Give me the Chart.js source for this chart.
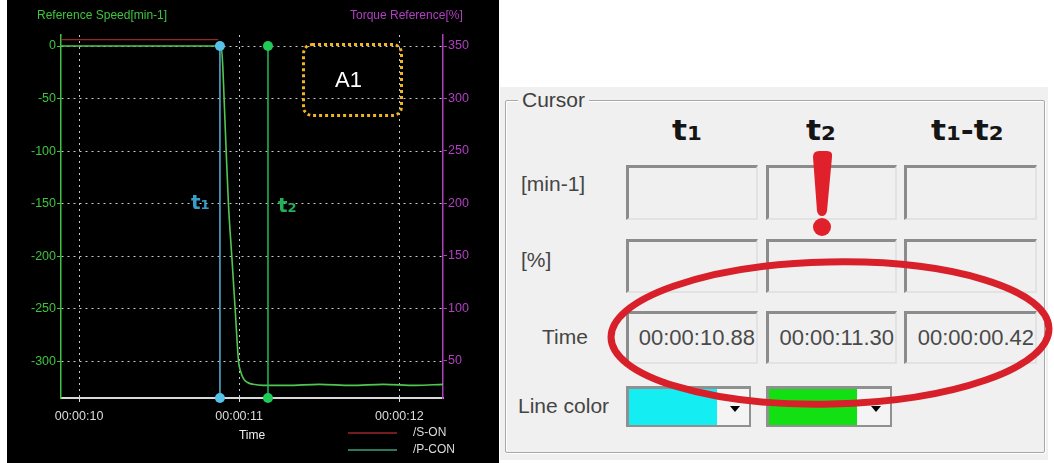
<!DOCTYPE html>
<html>
<head>
<meta charset="utf-8">
<script src="https://cdn.jsdelivr.net/npm/chart.js@4.4.1/dist/chart.umd.min.js"></script>
<style>
  body { margin:0; width:1054px; height:463px; background:#fff; position:relative; overflow:hidden;
         font-family:'Liberation Sans', Arial, sans-serif; }
  #scope { position:absolute; left:7px; top:0; width:492px; height:463px; background:#000; }
  #scope canvas { position:absolute; left:0; top:0; }
  .ttl { position:absolute; top:8px; font-size:12px; white-space:nowrap; }
  .a1 { position:absolute; left:295px; top:43px; width:101px; height:74px; box-sizing:border-box;
        border:3px dotted #f0b428; border-radius:10px; color:#fff; font-size:22px;
        text-align:center; line-height:68px; padding-right:8px; }
  .cur { position:absolute; font-family:'DejaVu Sans', sans-serif; font-weight:bold; font-size:20px; }
  .cur span { font-size:13px; }

  #panelbg { position:absolute; left:500px; top:87px; width:548px; height:373px; background:#f0f0f0; }
  #group { position:absolute; left:505px; top:100px; width:540px; height:353px; box-sizing:border-box;
           border:1px solid #a8a8a8; box-shadow:inset 1px 1px 0 #fff, 1px 1px 0 #fff; border-radius:2px; }
  .legend { position:absolute; left:518px; top:89px; padding:0 4px; background:#f0f0f0; font-size:21px;
            line-height:21px; color:#404040; }
  .hdr { position:absolute; top:116px; font-family:'DejaVu Sans', sans-serif; font-weight:bold; font-size:28px;
         line-height:30px; color:#151515; transform:scaleX(1.12); transform-origin:left top; white-space:nowrap; }
  .hdr span { font-size:19px; }
  .rl { position:absolute; font-size:21px; line-height:21px; color:#454545; white-space:nowrap; }
  .box { position:absolute; box-sizing:border-box; background:#f0f0f0;
         border-top:3px solid #8c8c8c; border-left:3px solid #8c8c8c;
         border-bottom:2px solid #e2e2e2; border-right:2px solid #e2e2e2;
         font-size:22px; color:#4a4a4a; text-align:right; padding-right:1px; }
  .dd { position:absolute; top:386px; height:41px; box-sizing:border-box; background:#f4f4f4;
        border:3px solid #909090; border-right-width:2px; border-bottom-width:2px; }
  .dd .sw { position:absolute; left:0; top:0; width:88px; height:36px; }
  .dd .ar { position:absolute; top:17px; width:0; height:0; border-left:5px solid transparent;
            border-right:5px solid transparent; border-top:6px solid #000; }
  #marks { position:absolute; left:0; top:0; pointer-events:none; }
</style>
</head>
<body>

<div id="scope">
  <canvas id="line_graph" width="492" height="463"></canvas>
  <div class="ttl" style="left:30px; color:#3fc43f;">Reference Speed[min-1]</div>
  <div class="ttl" style="left:343px; color:#b040c0;">Torque Reference[%]</div>
  <div class="a1">A1</div>
  <div class="cur" style="left:184px; top:190px; color:#3a9cc8;">t<span>1</span></div>
  <div class="cur" style="left:271px; top:193px; color:#22b05a;">t<span>2</span></div>
</div>

<div id="panelbg"></div>
<div id="group"></div>
<div class="legend">Cursor</div>
<div class="hdr" style="left:672px;">t<span>1</span></div>
<div class="hdr" style="left:806px;">t<span>2</span></div>
<div class="hdr" style="left:931px;">t<span>1</span>-t<span>2</span></div>

<div class="rl" style="left:521px; top:173px;">[min-1]</div>
<div class="rl" style="left:521px; top:249px;">[%]</div>
<div class="rl" style="left:542px; top:326px;">Time</div>
<div class="rl" style="left:518px; top:395px;">Line color</div>

<div id="boxes"></div>

<div class="dd" style="left:626px; width:125px;"><div class="sw" style="background:#14eef2;"></div><div class="ar" style="left:101px;"></div></div>
<div class="dd" style="left:766px; width:126px;"><div class="sw" style="background:#12e012;"></div><div class="ar" style="left:102px;"></div></div>

<svg id="marks" width="1054" height="463">
  <path d="M813,157 Q813,151 819,151 L827,151 Q833,151 832,157 L827,211 Q826,216 822,216 Q818,216 817,211 Z" fill="#e0202a"/>
  <circle cx="822" cy="227" r="9" fill="#e0202a"/>
  <ellipse cx="830" cy="333" rx="219" ry="71" transform="rotate(-1.2 830 333)" fill="none" stroke="#d8202a" stroke-width="7"/>
</svg>

<script>
// speed reference trace [min-1] vs time [s]
var speedTime  = [9.8875, 10.87, 10.888, 10.898, 10.906, 10.919, 10.933, 10.954, 10.975, 10.996, 11.01, 11.025, 11.05, 11.0875, 11.15, 11.3, 11.5, 11.7, 11.9, 12.1, 12.273];
var speedValue = [0, 0, 0, -20, -50, -100, -150, -200, -250, -300, -310, -316, -320, -322, -323, -323, -322, -323, -322, -323, -322];

// /S-ON trace on torque axis [%]
var sOnTime  = [9.8875, 10.87];
var sOnValue = [356, 356];

// cursors
var cursorNames = ["t1", "t2"];
var cursorTimes = [10.88, 11.18];
var cursorColors = ["#56b0d8", "#2ab85a"];
var cursorDots = ["#56c2ea", "#20cc58"];

// table values
var cursorTimeText = ["00:00:10.88", "00:00:11.30", "00:00:00.42"];

var xMin = 9.8875, xMax = 12.273;
var yMin = -335, yMax = 10.5;
var y2Min = 14.7, y2Max = 360.5;

function fmtTime(v) {
  var s = Math.round(v);
  return "00:00:" + (s < 10 ? "0" + s : s);
}

var speedData = [];
for (var i = 0; i < speedTime.length; i++) {
  speedData.push({x: speedTime[i], y: speedValue[i]});
}
var sOnData = [];
for (var i = 0; i < sOnTime.length; i++) {
  sOnData.push({x: sOnTime[i], y: sOnValue[i]});
}

var datasets = [];
for (var c = 0; c < cursorTimes.length; c++) {
  datasets.push({
    label: cursorNames[c],
    data: [{x: cursorTimes[c], y: 0}, {x: cursorTimes[c], y: yMin}],
    yAxisID: 'y',
    borderColor: cursorColors[c],
    borderWidth: 1.5,
    pointRadius: 5,
    pointBackgroundColor: cursorDots[c],
    pointBorderWidth: 0,
    clip: false,
    order: 0
  });
}
datasets.push({
  label: "Reference Speed",
  data: speedData,
  yAxisID: 'y',
  borderColor: "#50c650",
  borderWidth: 1.6,
  pointRadius: 0,
  cubicInterpolationMode: 'monotone',
  order: 1
});
datasets.push({
  label: "/S-ON",
  data: sOnData,
  yAxisID: 'y2',
  borderColor: "#9c2424",
  borderWidth: 1.2,
  pointRadius: 0,
  inLegend: true,
  order: 2
});
datasets.push({
  label: "/P-CON",
  data: [],
  yAxisID: 'y2',
  borderColor: "#3aa27c",
  borderWidth: 1.2,
  pointRadius: 0,
  inLegend: true,
  order: 2
});

// legend at bottom right, line sample + label
var legendLines = {
  id: 'legendLines',
  afterDraw: function(chart) {
    var ctx = chart.ctx;
    var row = 0;
    chart.data.datasets.forEach(function(ds) {
      if (!ds.inLegend) return;
      var y = 433 + row * 17;
      ctx.save();
      ctx.strokeStyle = ds.borderColor;
      ctx.lineWidth = 1.5;
      ctx.beginPath();
      ctx.moveTo(341, y);
      ctx.lineTo(390, y);
      ctx.stroke();
      ctx.fillStyle = "#dcdcdc";
      ctx.font = "12px 'Liberation Sans', Arial, sans-serif";
      ctx.textBaseline = "middle";
      ctx.fillText(ds.label, 406, y);
      ctx.restore();
      row++;
    });
  }
};

var tickFont = {family: "'Liberation Sans', Arial, sans-serif", size: 12.5};

var ctx = document.getElementById("line_graph");
var line_graph = new Chart(ctx, {
  type: 'line',
  data: { datasets: datasets },
  options: {
    responsive: false,
    animation: false,
    devicePixelRatio: 1,
    layout: { padding: { top: 35, bottom: 20, left: 0, right: 0 } },
    plugins: { legend: { display: false }, tooltip: { enabled: false } },
    scales: {
      x: {
        type: 'linear', min: xMin, max: xMax,
        ticks: { stepSize: 1, includeBounds: false, color: '#dcdcdc', font: tickFont, padding: 7, maxRotation: 0,
                 callback: function(v) { return fmtTime(v); } },
        grid: { color: '#c8c8c8', lineWidth: 1, tickColor: '#dcdcdc', tickLength: 4 },
        border: { color: '#d8d8d8', width: 2, dash: [2, 4] },
        title: { display: true, text: 'Time', color: '#eeeeee', font: {family: tickFont.family, size: 12}, padding: 0 },
        afterFit: function(scale) { scale.height = 45; }
      },
      y: {
        position: 'left', min: yMin, max: yMax,
        ticks: { stepSize: 50, includeBounds: false, color: '#3fc43f', font: tickFont, padding: 1,
                 callback: function(v) { return String(v); } },
        grid: { color: '#c8c8c8', lineWidth: 1, tickColor: '#3fc43f', tickLength: 4 },
        border: { color: '#3fc43f', width: 1.5, dash: [2, 4] },
        afterFit: function(scale) { scale.width = 54; }
      },
      y2: {
        position: 'right', min: y2Min, max: y2Max,
        ticks: { stepSize: 50, includeBounds: false, color: '#b040c0', font: tickFont, padding: 1,
                 callback: function(v) { return String(v); } },
        grid: { drawOnChartArea: false, tickColor: '#b040c0', tickLength: 4 },
        border: { color: '#b040c0', width: 1.5 },
        afterFit: function(scale) { scale.width = 56; }
      }
    }
  },
  plugins: [legendLines]
});

// cursor table boxes
var rowTops = [165, 239, 311];
var rowHeights = [55, 54, 53];
var colLefts = [626, 766, 904];
var colWidths = [132, 131, 133];
var boxesEl = document.getElementById("boxes");
for (var r = 0; r < rowTops.length; r++) {
  for (var k = 0; k < colLefts.length; k++) {
    var b = document.createElement("div");
    b.className = "box";
    b.style.left = colLefts[k] + "px";
    b.style.top = rowTops[r] + "px";
    b.style.width = colWidths[k] + "px";
    b.style.height = rowHeights[r] + "px";
    if (r == 2) {
      b.textContent = cursorTimeText[k];
      b.style.lineHeight = (rowHeights[r] - 5) + "px";
    }
    boxesEl.appendChild(b);
  }
}
</script>
</body>
</html>
